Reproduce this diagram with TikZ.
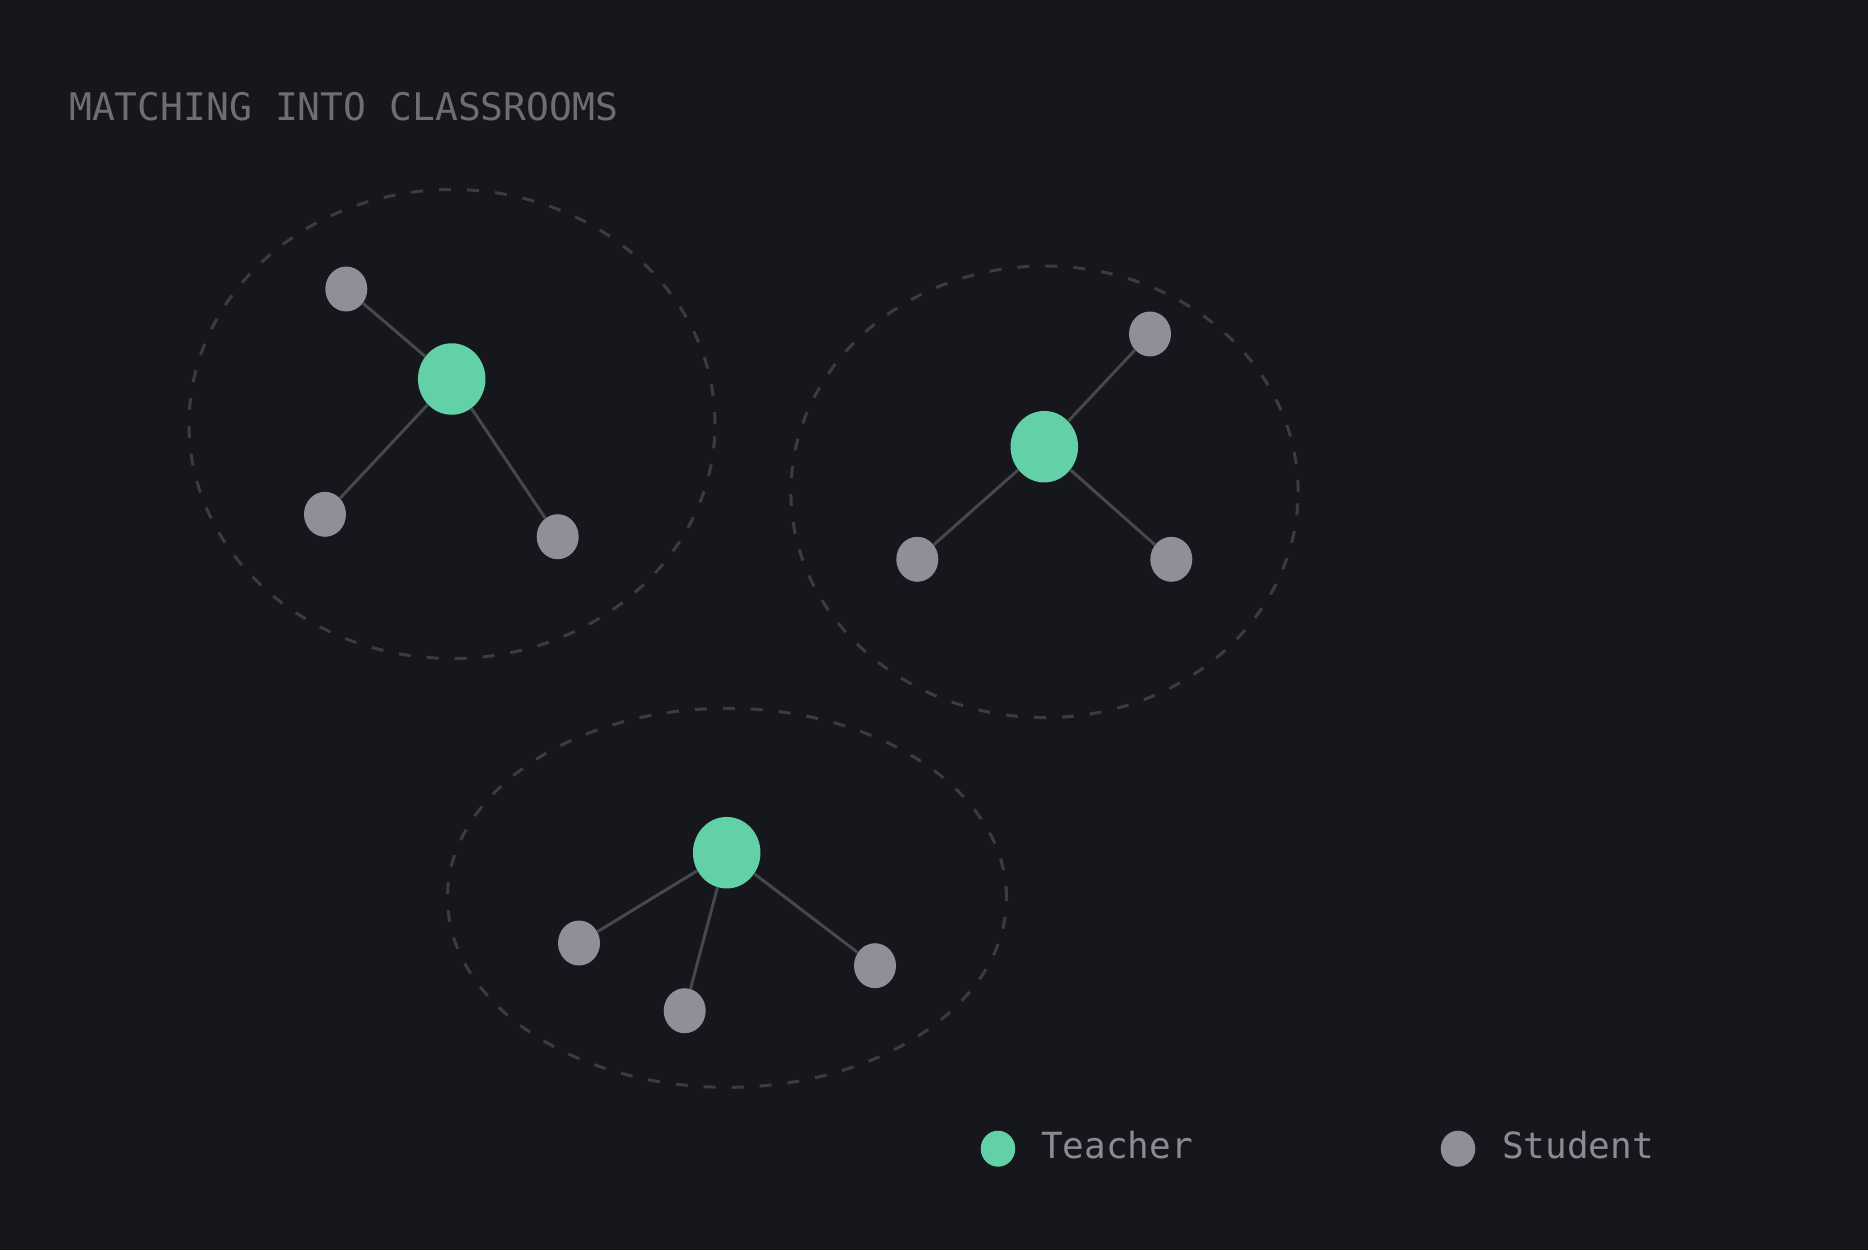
\documentclass[tikz,border=0pt]{standalone}
\usepackage{fontspec}
\newfontfamily\monofont{DejaVu Sans Mono}
\usepackage{tikz}
\usetikzlibrary{shapes.geometric}
\definecolor{bg}{HTML}{16171C}
\definecolor{mint}{HTML}{62D1A8}
\definecolor{slate}{HTML}{8E8F98}
\definecolor{wire}{HTML}{47484D}
\definecolor{ring}{HTML}{3B3C41}
\definecolor{dim}{HTML}{6C6E74}
\definecolor{muted}{HTML}{8B8C93}
\tikzset{
  teacher/.style={ellipse, fill=mint, inner sep=0pt, minimum width=67.5pt, minimum height=71.5pt},
  student/.style={ellipse, fill=slate, inner sep=0pt, minimum width=42pt, minimum height=45pt},
  dotT/.style={teacher, minimum width=34.5pt, minimum height=36pt},
  dotS/.style={student, minimum width=34.5pt, minimum height=36pt},
  link/.style={line width=3pt, draw=wire},
  room/.style={line width=3pt, draw=ring, dash pattern=on 12pt off 16pt},
  ttl/.style={text=dim, anchor=base west, inner sep=0pt, font=\monofont\fontsize{38}{46}\selectfont},
  lab/.style={text=muted, anchor=base west, inner sep=0pt, font=\monofont\fontsize{36}{43}\selectfont}
}
\begin{document}
\begin{tikzpicture}[x=1pt, y=-1pt]
  \fill[bg] (0,0) rectangle (1868,1250);
  \useasboundingbox (0,0) rectangle (1868,1250);

  \node[ttl] (title) at (69,120) {MATCHING INTO CLASSROOMS};

  % classrooms
  \draw[room] (452,424) ellipse [x radius=263pt, y radius=234.5pt];
  \draw[room] (1044.5,491.8) ellipse [x radius=253.6pt, y radius=225.8pt];
  \draw[room] (727,897.8) ellipse [x radius=279.5pt, y radius=189.5pt];

  % room 1
  \node[teacher] (T1) at (451.7,379) {};
  \node[student] (S1a) at (346.3,289) {};
  \node[student] (S1b) at (325,514.3) {};
  \node[student] (S1c) at (557.7,536.7) {};
  \draw[link] (T1) -- (S1a);
  \draw[link] (T1) -- (S1b);
  \draw[link] (T1) -- (S1c);

  % room 2
  \node[teacher] (T2) at (1044.3,446.7) {};
  \node[student] (S2a) at (1150,334) {};
  \node[student] (S2b) at (917.3,559.3) {};
  \node[student] (S2c) at (1171.3,559.3) {};
  \draw[link] (T2) -- (S2a);
  \draw[link] (T2) -- (S2b);
  \draw[link] (T2) -- (S2c);

  % room 3
  \node[teacher] (T3) at (726.7,852.7) {};
  \node[student] (S3a) at (579,943) {};
  \node[student] (S3b) at (684.7,1010.7) {};
  \node[student] (S3c) at (875,965.7) {};
  \draw[link] (T3) -- (S3a);
  \draw[link] (T3) -- (S3b);
  \draw[link] (T3) -- (S3c);

  % legend
  \node[dotT] (legT) at (998,1148.7) {};
  \node[lab] (labT) at (1041,1158.3) {Teacher};
  \node[dotS] (legS) at (1458,1148.7) {};
  \node[lab] (labS) at (1502,1158.3) {Student};
\end{tikzpicture}
\end{document}
